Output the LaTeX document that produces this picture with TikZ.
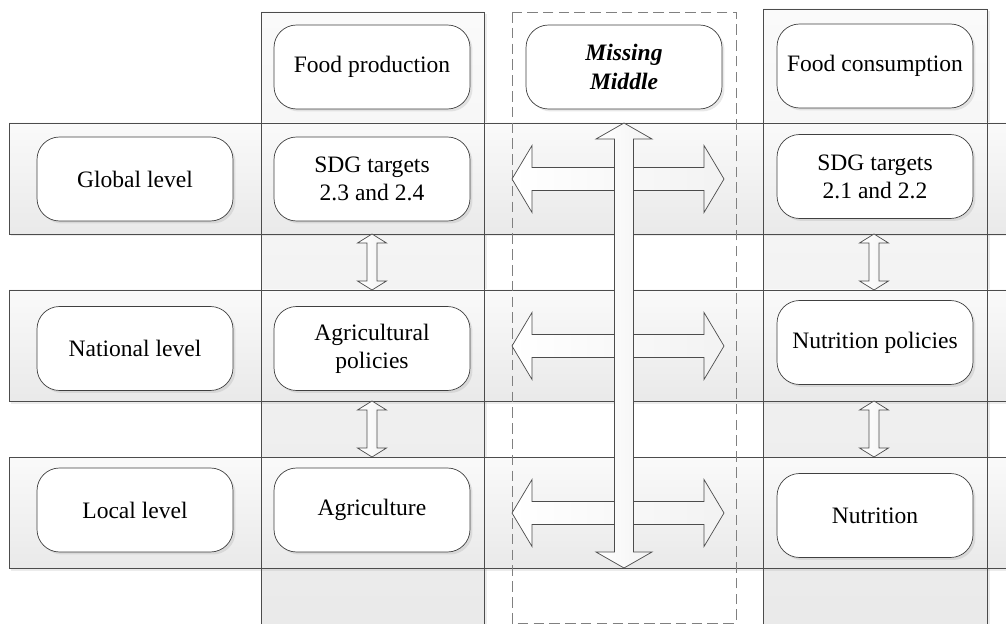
\documentclass[tikz,border=0pt]{standalone}
\usepackage{fontspec}
\setmainfont{Liberation Serif}
\usetikzlibrary{shadows,positioning}
\tikzset{
    lane/.style={draw=black!70, top color=gray!4, bottom color=gray!17},
    lanedge/.style={draw=black!70},
    laneshadow/.style={drop shadow={opacity=0.15, shadow xshift=0.05cm, shadow yshift=-0.05cm}},
    box/.style={draw=black!75, fill=white, rounded corners=0.45cm,
        minimum width=3.92cm, minimum height=1.68cm, align=center,
        font=\fontsize{13.4}{16}\selectfont,
        drop shadow={opacity=0.18, shadow xshift=0.05cm, shadow yshift=-0.05cm}},
    blockarrow/.style={draw=black!70, left color=white, right color=gray!10, line join=miter},
}
% double block arrows: centre x, centre y, half length, half head, half shaft, head length
\newcommand{\hbiarrow}[6]{%
    \draw[blockarrow] (#1-#3,#2) -- (#1-#3+#6,#2-#4) -- (#1-#3+#6,#2-#5) -- (#1+#3-#6,#2-#5)
        -- (#1+#3-#6,#2-#4) -- (#1+#3,#2) -- (#1+#3-#6,#2+#4) -- (#1+#3-#6,#2+#5)
        -- (#1-#3+#6,#2+#5) -- (#1-#3+#6,#2+#4) -- cycle;}
\newcommand{\vbiarrow}[6]{%
    \draw[blockarrow] (#1,#2-#3) -- (#1-#4,#2-#3+#6) -- (#1-#5,#2-#3+#6) -- (#1-#5,#2+#3-#6)
        -- (#1-#4,#2+#3-#6) -- (#1,#2+#3) -- (#1+#4,#2+#3-#6) -- (#1+#5,#2+#3-#6)
        -- (#1+#5,#2-#3+#6) -- (#1+#4,#2-#3+#6) -- cycle;}

\begin{document}
\begin{tikzpicture}[x=0.02cm, y=-0.02cm]
    \useasboundingbox (0,0) rectangle (1006,624);
    \clip (0,0) rectangle (1006,624);

    % Columns
    \path[lane, laneshadow] (261,12) rectangle (484,640);
    \path[lane, laneshadow] (763,9) rectangle (987,640);

    % Levels
    \foreach \y in {123, 290, 457} {
        \path[lane, laneshadow] (9,\y) rectangle (1020,\y+111);
    }
    \draw[lanedge] (261,12) rectangle (484,640);
    \draw[lanedge] (763,9) rectangle (987,640);

    % Missing middle column
    \draw[gray, dash pattern=on 6pt off 3pt] (512,12) rectangle (736,623);

    % Arrows
    \foreach \y in {179, 346, 513}
        \hbiarrow{618}{\y}{106}{33.5}{11.5}{20};
    \vbiarrow{624}{345.5}{222.5}{28}{9.5}{16}
    \foreach \x/\y in {372/262, 372/429, 874/262, 874/429}
        \vbiarrow{\x}{\y}{28}{14.5}{5}{9};

    % Levels labels
    \node[box] (glob) at (135,179) {Global level};
    \node[box] (natl) at (135,348.5) {National level};
    \node[box] (locl) at (135,510) {Local level};

    % Production side
    \node[box] (prod) at (372,67) {Food production};
    \node[box] (sdgprod) at (372,179) {SDG targets\\2.3 and 2.4};
    \node[box] (agripol) at (372,348.5) {Agricultural\\policies};
    \node[box] (agri) at (372,510) {Agriculture};

    \node[box, font=\fontsize{13.4}{16}\selectfont\bfseries\itshape] (mid) at (624,67) {Missing\\Middle};

    % Consumption side
    \node[box] (cons) at (875,66) {Food consumption};
    \node[box] (sdgcons) at (875,176.5) {SDG targets\\2.1 and 2.2};
    \node[box] (nutpol) at (875,342.5) {Nutrition policies};
    \node[box] (nutr) at (875,515.5) {Nutrition};
\end{tikzpicture}
\end{document}
